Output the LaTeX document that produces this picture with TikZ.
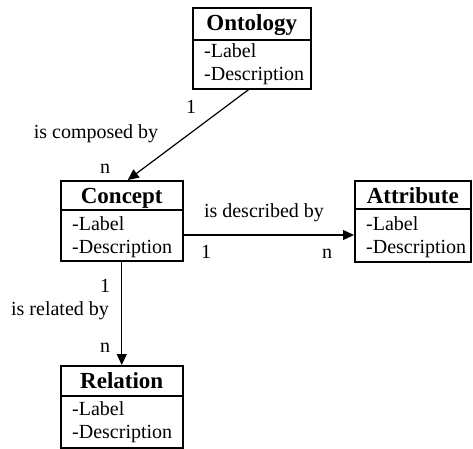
\documentclass[tikz,border=0pt]{standalone}
\usepackage{fontspec}
\setmainfont{Liberation Serif}
\usetikzlibrary{calc,arrows.meta}

\tikzset{
  classframe/.style={draw, line width=1.5pt, inner sep=0pt, anchor=north west},
  classtitle/.style={anchor=base, inner sep=0pt, font=\fontsize{23}{26}\selectfont\bfseries},
  classitem/.style={anchor=base west, inner sep=0pt, font=\fontsize{20}{24}\selectfont},
  divider/.style={line width=1.5pt},
  tag/.style={anchor=base, inner sep=0pt, font=\fontsize{20}{24}\selectfont},
  link/.style={line width=1.2pt, -{Triangle[length=11pt,width=10pt]}},
}

% #1 name, #2 left, #3 top, #4 width, #5 height, #6 header height, #7 title
\newcommand\umlclass[7]{%
  \node[classframe, minimum width=#4pt, minimum height=#5pt] (#1) at (#2,-#3) {};
  \node[classtitle] (#1-title) at ($(#1.north)+(0,-23)$) {#7};
  \draw[divider] ($(#1.north west)+(0,-#6)$) -- ($(#1.north east)+(0,-#6)$);
  \node[classitem] (#1-label) at ($(#1.north west)+(12,-50)$) {-Label};
  \node[classitem] (#1-desc) at ($(#1.north west)+(12,-73)$) {-Description};
}

\begin{document}
\begin{tikzpicture}[x=1pt, y=1pt]
  \fill[white] (0,0) rectangle (473,-448);
  \useasboundingbox (0,0) rectangle (473,-448);

  % classes
  \umlclass{ont}{192}{7}{118}{81}{33}{Ontology}
  \umlclass{con}{60}{180}{122}{80}{30}{Concept}
  \umlclass{att}{354}{180}{116}{81}{29}{Attribute}
  \umlclass{rel}{60}{365}{122}{82}{31}{Relation}

  % associations
  \draw[link] ($(ont.south)+(-3,0)$) -- ($(con.north)+(6,0)$);
  \draw[link] ($(con.north east)+(0,-55)$) -- ($(att.north west)+(0,-55)$);
  \draw[link] (con.south) -- (rel.north);

  % roles and multiplicities
  \node[tag] (m-ont) at (191,-113) {1};
  \node[tag] (r-comp) at (96,-138) {is composed by};
  \node[tag] (m-con1) at (105,-173) {n};
  \node[tag] (r-desc) at (264,-217) {is described by};
  \node[tag] (m-con2) at (206,-258) {1};
  \node[tag] (m-att) at (327,-258) {n};
  \node[tag] (m-con3) at (105,-292) {1};
  \node[tag] (r-rel) at (60,-315) {is related by};
  \node[tag] (m-rel) at (105,-352) {n};
\end{tikzpicture}
\end{document}
